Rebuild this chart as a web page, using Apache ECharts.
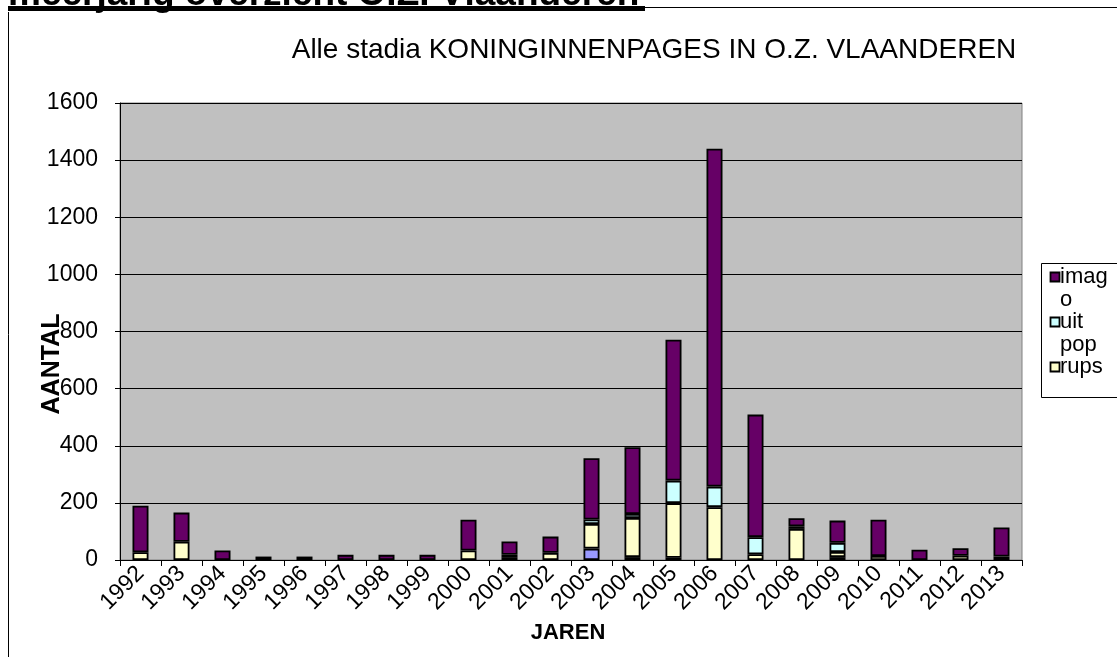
<!DOCTYPE html>
<html>
<head>
<meta charset="utf-8">
<script src="https://cdn.jsdelivr.net/npm/echarts@6/dist/echarts.min.js"></script>
<style>
html,body{margin:0;padding:0;background:#fff;}
#chart{width:1117px;height:657px;}
</style>
</head>
<body>
<div id="chart"></div>
<script>
const years = ['1992','1993','1994','1995','1996','1997','1998','1999','2000','2001','2002','2003','2004','2005','2006','2007','2008','2009','2010','2011','2012','2013'];
const ei     = [null,null,null,null,null,null,null,null,null,null,null,40,null,8,null,null,null,null,null,null,null,null];
const pop    = [null,null,null,null,null,null,null,null,null,10,null,null,10,null,null,null,null,10,null,null,null,null];
const rups   = [27,64,null,null,null,null,null,null,33,8,25,86,137,191,185,20,109,18,14,null,15,12];
const uitpop = [null,null,null,null,null,null,null,null,null,null,null,16,14,79,72,60,9,32,null,null,null,null];
const imago  = [163,102,33,12,12,18,18,18,108,47,57,214,234,493,1183,429,28,78,127,36,26,102];
const yTicks = [0,200,400,600,800,1000,1200,1400,1600];

const colors = {ei:'#9999FF', pop:'#993366', rups:'#FFFFCC', uitpop:'#CCFFFF', imago:'#660066'};
const FONT = 'Liberation Sans, Arial, sans-serif';

function mk(name, data, color){
  return {
    name: name, type: 'bar', stack: 'tot', data: data, barWidth: 16,
    itemStyle: {color: color, borderColor: '#000', borderWidth: 1.8},
    emphasis: {disabled: true}
  };
}

const chart = echarts.init(document.getElementById('chart'), null, {renderer:'canvas'});
const legendItems = [
  {lines:['imag','o'], color: colors.imago},
  {lines:['uit','pop'], color: colors.uitpop},
  {lines:['rups'], color: colors.rups}
];
const legendEls = [{type:'rect', shape:{x:1041.5,y:263.5,width:100,height:134}, style:{fill:'#fff', stroke:'#000', lineWidth:1}}];
let ly = 277;
legendItems.forEach(it => {
  legendEls.push({type:'rect', shape:{x:1050.5,y:ly-4.5,width:9,height:9}, style:{fill:it.color, stroke:'#000', lineWidth:1.8}});
  it.lines.forEach(t => {
    legendEls.push({type:'text', x:1060, y:ly, style:{text:t, font:'22px '+FONT, fill:'#000', verticalAlign:'middle', align:'left'}});
    ly += 22.5;
  });
});

chart.setOption({
  animation: false,
  backgroundColor: '#fff',
  title: {
    text: 'Alle stadia KONINGINNENPAGES IN O.Z. VLAANDEREN',
    left: 649, top: 31, textAlign: 'center',
    textStyle: {fontFamily: FONT, fontSize: 28, fontWeight: 'normal', color: '#000'}
  },
  grid: {left:120, right:95, top:103, bottom:97, show:true, backgroundColor:'#C0C0C0', borderColor:'#808080', borderWidth:1},
  xAxis: {
    type: 'category', data: years,
    axisLine: {lineStyle:{color:'#000', width:1}},
    axisTick: {show:true, length:6, lineStyle:{color:'#000'}},
    axisLabel: {rotate:45, fontFamily:FONT, fontSize:23, color:'#000', margin:10, interval:0}
  },
  yAxis: {
    type: 'value', min: yTicks[0], max: yTicks[yTicks.length-1], interval: 200,
    axisLine: {show:true, lineStyle:{color:'#000', width:1}},
    axisTick: {show:true, length:5, lineStyle:{color:'#000'}},
    splitLine: {show:true, lineStyle:{color:'#000', width:1}},
    axisLabel: {fontFamily:FONT, fontSize:23, color:'#000', margin:22, formatter: v => String(v)}
  },
  series: [
    mk('ei', ei, colors.ei),
    mk('pop', pop, colors.pop),
    mk('rups', rups, colors.rups),
    mk('uit pop', uitpop, colors.uitpop),
    mk('imago', imago, colors.imago)
  ],
  graphic: [
    {type:'text', x:8, y:13, style:{text:'meerjarig overzicht O.Z. Vlaanderen', font:'bold 37px '+FONT, fill:'#000', verticalAlign:'bottom', align:'left'}},
    {type:'rect', shape:{x:8,y:6,width:637,height:5}, style:{fill:'#000'}},
    {type:'line', shape:{x1:645,y1:7.5,x2:1117,y2:7.5}, style:{stroke:'#000', lineWidth:1}},
    {type:'line', shape:{x1:8.5,y1:12,x2:8.5,y2:657}, style:{stroke:'#000', lineWidth:1}},
    {type:'text', x:52, y:364, rotation:Math.PI/2, style:{text:'AANTAL', font:'bold 25px '+FONT, fill:'#000', align:'center', verticalAlign:'middle'}},
    {type:'text', x:568, y:633, style:{text:'JAREN', font:'bold 22px '+FONT, fill:'#000', align:'center', verticalAlign:'middle'}}
  ].concat(legendEls)
});
</script>
</body>
</html>
